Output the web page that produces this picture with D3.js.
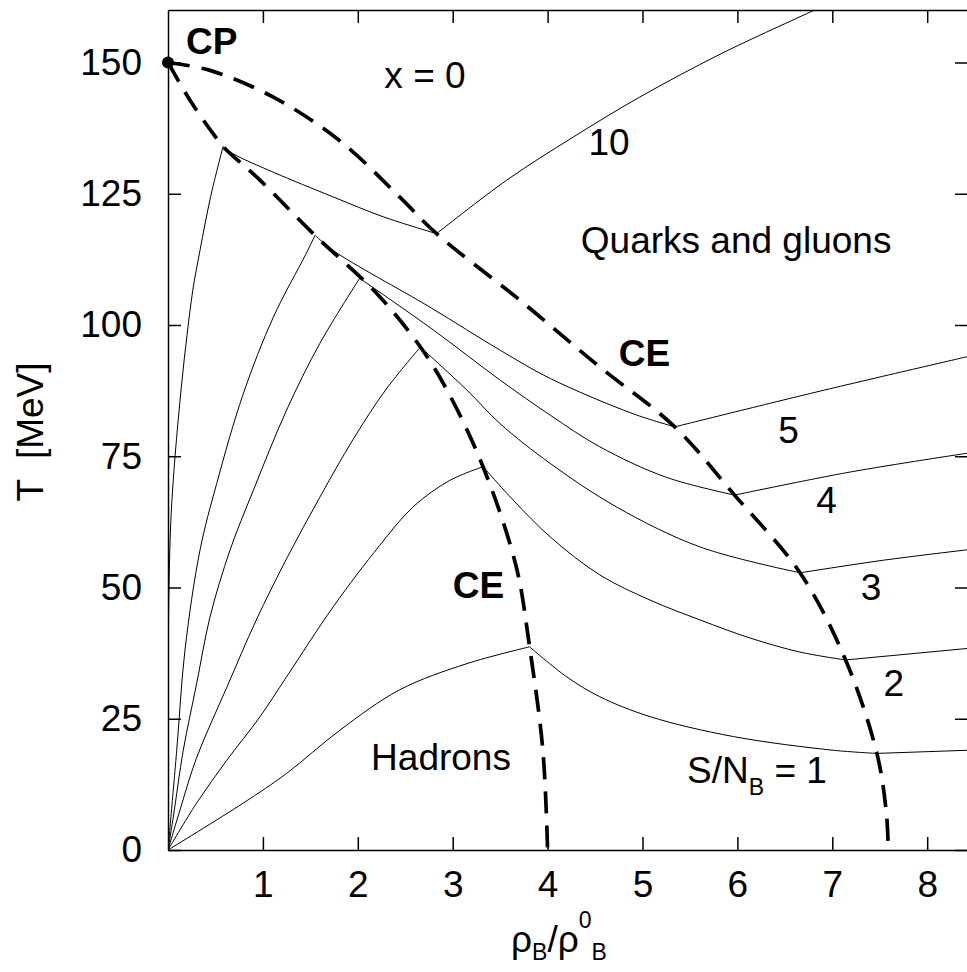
<!DOCTYPE html>
<html>
<head>
<meta charset="utf-8">
<script src="https://cdn.jsdelivr.net/npm/d3@7"></script>
<style>
  body { margin: 0; background: #fff; }
  svg { display: block; font-family: "Liberation Sans", Arial, sans-serif; }
  .axis text { font-size: 37px; fill: #000; }
  .axis line, .axis path { stroke: #000; stroke-width: 1.5; }
  .lbl { font-size: 37px; fill: #000; }
</style>
</head>
<body>
<div id="chart"></div>
<script>
// phase boundaries (dashed), rho_B/rho_B^0 vs T [MeV]
var dashOuter = [[0,150],[0.443,148.5],[1.11,143.4],[1.81,135.1],[2.44,124.4],[2.83,117.4],[3.71,104.7],[4.55,92.0],
                 [5.34,80.6],[5.97,67.6],[6.66,52.8],[7.14,36.2],[7.47,18.4],[7.57,7],[7.59,0]];
var dashInner = [[0,150],[0.232,142.8],[0.477,136.4],[0.58,134.0],[0.969,127.6],[1.53,117.4],[2.20,106.0],[2.66,95.8],
                 [2.94,87.6],[3.32,73.0],[3.67,53.9],[3.81,38.7],[3.95,19.0],[4.0,0]];

// isentropes S/N_B, each as [hadron branch, mixed branch, quark branch]
var entropies = [10, 5, 4, 3, 2, 1];
var s10 = [
  [[0,0],[0.001,20],[0.003,38],[0.011,50.8],[0.032,63.5],[0.074,74.9],[0.144,88.8],[0.20,98],[0.26,106.5],[0.337,114.2],[0.45,124.5],[0.58,134.0]],
  [[0.58,134.0],[0.688,132.6],[1.11,129.1],[1.74,124.4],[2.27,120.6],[2.83,117.4]],
  [[2.83,117.4],[3.57,127.6],[4.27,135.8],[4.97,143.4],[5.82,151.6],[6.80,159.9],[6.9,160.8]]
];
var s5 = [
  [[0,0],[0.092,19.0],[0.179,38.1],[0.337,57.1],[0.513,69.8],[0.793,86.9],[1.11,101.5],[1.45,113.4],[1.55,117.1]],
  [[1.55,117.1],[1.74,114.2],[2.76,103.4],[3.50,95.2],[4.03,89.8],[4.90,83.1],[5.34,80.6]],
  [[5.34,80.6],[6.87,87.4],[8.43,94.0]]
];
var s4 = [
  [[0,0],[0.056,6.3],[0.161,19.0],[0.302,31.7],[0.443,44.4],[0.653,57.1],[0.899,68.5],[1.25,83.8],[1.60,96.5],[2.02,108.9]],
  [[2.02,108.9],[2.80,99.0],[3.50,89.5],[4.03,82.8],[4.55,76.8],[5.25,71.0],[5.97,67.6]],
  [[5.97,67.6],[7.19,72.0],[8.43,75.6]]
];
var s3 = [
  [[0,0],[0.126,7.6],[0.30,17.5],[0.62,31.0],[0.93,43.8],[1.25,55.5],[1.60,67.2],[1.95,78.2],[2.30,87.8],[2.66,95.8]],
  [[2.66,95.8],[3.15,87.6],[3.50,81.2],[4.03,73.6],[4.73,65.3],[5.61,57.7],[6.66,52.8]],
  [[6.66,52.8],[7.54,55.2],[8.43,57.2]]
];
var s2 = [
  [[0,0],[0.30,8.9],[0.62,17.1],[0.97,25.4],[1.25,33.0],[1.74,46.3],[2.23,58.0],[2.58,65.3],[2.97,70.4],[3.32,73.0]],
  [[3.32,73.0],[3.64,66.6],[4.03,59.6],[4.55,52.4],[5.08,47.6],[5.61,43.8],[6.13,40.4],[6.66,37.7],[7.14,36.2]],
  [[7.14,36.2],[8.43,38.4]]
];
var s1 = [
  [[0,0],[0.79,8.9],[1.25,14.6],[1.81,22.8],[2.44,30.5],[3.15,35.5],[3.81,38.7]],
  [[3.81,38.7],[4.20,33.0],[4.55,29.2],[5.08,25.4],[5.96,21.6],[7.01,19.0],[7.47,18.4]],
  [[7.47,18.4],[8.43,19.0]]
];
var xTicks = [1, 2, 3, 4, 5, 6, 7, 8];
var yTicks = [0, 25, 50, 75, 100, 125, 150];
var critPoint = [0, 150];

var width = 967, height = 972;
var margin = {top: 10, left: 168, right: 968, bottom: 850};

var x = d3.scaleLinear().domain([0, 8.43]).range([margin.left, margin.right]);
var y = d3.scaleLinear().domain([0, 160]).range([margin.bottom, margin.top]);

var svg = d3.select('#chart').append('svg')
    .attr('width', width)
    .attr('height', height);

svg.append('clipPath').attr('id', 'plotclip')
  .append('rect')
    .attr('x', margin.left).attr('y', margin.top)
    .attr('width', margin.right - margin.left)
    .attr('height', margin.bottom - margin.top);

// axes, ticks pointing inwards
svg.append('g').attr('class', 'axis')
    .attr('transform', 'translate(0,' + margin.bottom + ')')
    .call(d3.axisBottom(x).tickValues(xTicks).tickSize(-13).tickSizeOuter(0).tickPadding(21));
svg.append('g').attr('class', 'axis')
    .attr('transform', 'translate(0,' + margin.top + ')')
    .call(d3.axisTop(x).tickValues(xTicks).tickSize(-13).tickSizeOuter(0).tickFormat(''));
svg.append('g').attr('class', 'axis')
    .attr('transform', 'translate(' + margin.left + ',0)')
    .call(d3.axisLeft(y).tickValues(yTicks).tickSize(-13).tickSizeOuter(0).tickPadding(26));
svg.append('g').attr('class', 'axis')
    .attr('transform', 'translate(' + margin.right + ',0)')
    .call(d3.axisRight(y).tickValues(yTicks).tickSize(-13).tickSizeOuter(0).tickFormat(''));

var line = d3.line()
    .x(d => x(d[0]))
    .y(d => y(d[1]))
    .curve(d3.curveCatmullRom.alpha(0.5));

var plot = svg.append('g').attr('clip-path', 'url(#plotclip)');

[s10, s5, s4, s3, s2, s1].forEach(branches => {
    branches.forEach(b => {
        plot.append('path')
            .attr('d', line(b))
            .attr('fill', 'none')
            .attr('stroke', '#000')
            .attr('stroke-width', 1);
    });
});

[dashOuter, dashInner].forEach(d => {
    plot.append('path')
        .attr('d', line(d))
        .attr('fill', 'none')
        .attr('stroke', '#000')
        .attr('stroke-width', 3.7)
        .attr('stroke-dasharray', '22,12');
});

svg.append('circle')
    .attr('cx', x(critPoint[0]))
    .attr('cy', y(critPoint[1]))
    .attr('r', 6)
    .attr('fill', '#000');

// annotations
function label(tx, ty, txt, bold) {
    return svg.append('text')
        .attr('class', 'lbl')
        .attr('x', x(tx))
        .attr('y', y(ty))
        .style('font-weight', bold ? 'bold' : 'normal')
        .text(txt);
}
label(0.19, 151.7, 'CP', true);
label(4.75, 92.1, 'CE', true);
label(3.0, 48.0, 'CE', true);
label(2.28, 145.1, 'x = 0');
label(4.43, 132.3, '10');
label(4.35, 113.7, 'Quarks and gluons');
label(6.43, 77.5, '5');
label(6.83, 64.2, '4');
label(7.30, 47.6, '3');
label(7.54, 29.3, '2');
label(2.14, 15.2, 'Hadrons');

var sn = label(5.47, 12.8, 'S/N');
sn.append('tspan').attr('dy', 12).style('font-size', '23px').text('B');
sn.append('tspan').attr('dy', -12).text(' = 1');

// axis titles
var xt = svg.append('text').attr('class', 'lbl')
    .attr('x', 511).attr('y', 952)
    .text('ρ');
xt.append('tspan').attr('dy', 8).style('font-size', '23px').text('B');
xt.append('tspan').attr('dy', -8).text('/ρ');
xt.append('tspan').attr('dy', -24).style('font-size', '23px').text('0');
xt.append('tspan').attr('dy', 32).style('font-size', '23px').text('B');

svg.append('text').attr('class', 'lbl')
    .attr('transform', 'translate(43,432) rotate(-90)')
    .attr('text-anchor', 'middle')
    .style('white-space', 'pre')
    .text('T  [MeV]');
</script>
</body>
</html>
